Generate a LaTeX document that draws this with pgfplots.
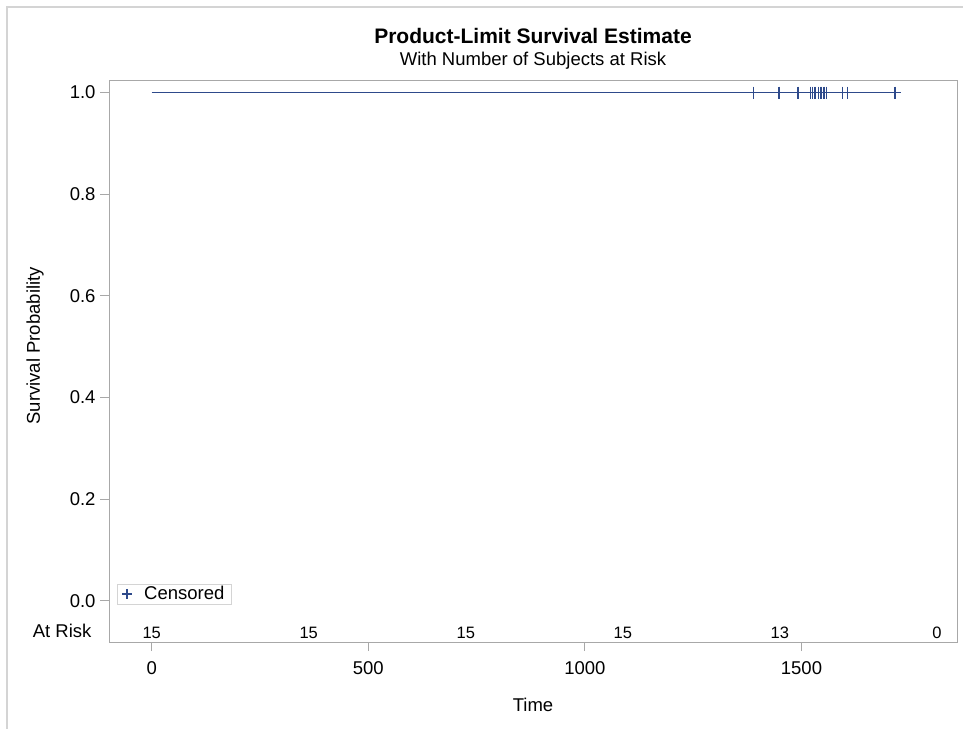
\documentclass[border=0pt]{standalone}
\usepackage{fontspec}
\setmainfont{Liberation Sans}
\usepackage{pgfplots}
\pgfplotsset{compat=1.18}
\usetikzlibrary{calc}
\definecolor{sasblue}{HTML}{2E4A8B}
\definecolor{framegray}{HTML}{A8A8A8}
\definecolor{bordergray}{HTML}{D4D4D4}
\newcommand{\tf}{\fontsize{18.5bp}{22bp}\selectfont}
\begin{document}
\begin{tikzpicture}
\path[use as bounding box] (0,0) rectangle (963bp,-729bp);
\draw[bordergray, line width=1.2bp] (7bp,-729bp) -- (7bp,-7bp) -- (963bp,-7bp);
\begin{axis}[
  name=ax,
  at={(109bp,-80bp)}, anchor=north west,
  scale only axis, width=848bp, height=562bp,
  xmin=-98.6, xmax=1859, ymin=-0.081, ymax=1.0246,
  clip=false,
  axis line style={draw=framegray, line width=1bp},
  xtick={0,500,1000,1500}, ytick={0,0.2,0.4,0.6,0.8,1.0},
  xtick pos=bottom, ytick pos=left,
  tick align=outside,
  major tick length=9bp,
  tick style={draw=framegray, line width=1bp},
  /pgf/number format/assume math mode=true,
  yticklabel style={/pgf/number format/fixed, /pgf/number format/precision=1, /pgf/number format/fixed zerofill, font=\tf, xshift=-1bp},
  xticklabel style={font=\tf, yshift=-7bp},
  scaled x ticks=false,
  xticklabel={\pgfmathprintnumber[fixed,precision=0,1000 sep={}]{\tick}},
  xlabel={Time}, ylabel={Survival Probability},
  xlabel style={font=\tf, at={(axis description cs:0.5,-0.112)}, anchor=center},
  ylabel style={font=\tf, at={(axis description cs:-0.0873,0.527)}, anchor=center},
  legend style={at={(axis description cs:0.0094,0.0676)}, anchor=south west, draw=bordergray, font=\tf, inner xsep=2bp, inner ysep=0bp, nodes={inner xsep=5bp, inner ysep=2.5bp}},
  legend image code/.code={\path[draw=none, fill=none] (0,0) -- (20bp,0); \draw[mark=+, mark size=5bp, line width=1.4bp, draw=sasblue, mark options={draw=sasblue, line width=1.4bp}] plot coordinates {(8bp,0)};},
  legend cell align=left,
]
\addplot[sasblue, line width=1.5bp, forget plot] coordinates {(0,1) (1716,1)};
\addplot[only marks, mark=+, mark size=6bp, sasblue, mark options={line width=1.2bp}] coordinates {
(1390,1) (1448,1) (1492,1) (1520,1) (1526,1) (1530,1) (1533,1) (1540,1) (1544,1) (1547,1) (1552,1) (1558,1) (1594,1) (1607,1) (1716,1)};
\addlegendentry{Censored}
\addplot[only marks, mark=none, forget plot, nodes near coords, point meta=explicit symbolic,
  nodes near coords style={anchor=center, font=\fontsize{16.5bp}{19bp}\selectfont, text=black}]
  table[meta=n] {
x y n
0 -0.063 15
362.5 -0.063 15
725 -0.063 15
1087.5 -0.063 15
1450 -0.063 13
1812.5 -0.063 0
};
\end{axis}
\node[anchor=east, font=\tf] at ($(ax.south west)+(-14bp,11bp)$) {At Risk};
\node[font=\bfseries\fontsize{21bp}{24bp}\selectfont] at ($(ax.north)+(0,44.5bp)$) {Product-Limit Survival Estimate};
\node[font=\tf] at ($(ax.north)+(0,19.5bp)$) {With Number of Subjects at Risk};
\end{tikzpicture}
\end{document}
